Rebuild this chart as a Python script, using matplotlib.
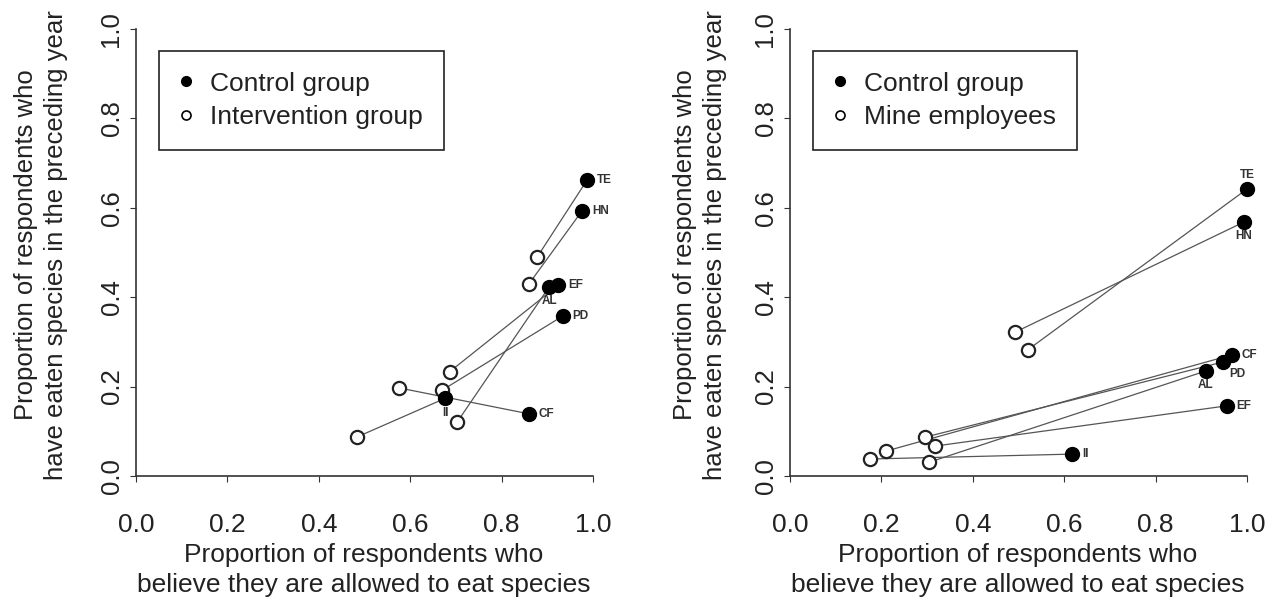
import matplotlib
matplotlib.use("Agg")
import matplotlib.pyplot as plt
from matplotlib.lines import Line2D

plt.rcParams['font.family'] = ['Liberation Sans', 'DejaVu Sans']

# ---- data ----
species_left = ['TE', 'HN', 'EF', 'AL', 'PD', 'II', 'CF']
ctrl_x_left = [0.987, 0.976, 0.924, 0.904, 0.934, 0.677, 0.860]
ctrl_y_left = [0.662, 0.593, 0.427, 0.423, 0.358, 0.174, 0.139]
int_x_left = [0.878, 0.860, 0.686, 0.703, 0.670, 0.483, 0.576]
int_y_left = [0.490, 0.430, 0.233, 0.121, 0.192, 0.087, 0.197]

species_right = ['TE', 'HN', 'CF', 'PD', 'AL', 'EF', 'II']
ctrl_x_right = [1.000, 0.993, 0.967, 0.947, 0.910, 0.956, 0.618]
ctrl_y_right = [0.642, 0.568, 0.271, 0.255, 0.235, 0.157, 0.049]
mine_x_right = [0.520, 0.493, 0.211, 0.296, 0.305, 0.318, 0.175]
mine_y_right = [0.282, 0.322, 0.056, 0.087, 0.031, 0.067, 0.038]

ticks = [0.0, 0.2, 0.4, 0.6, 0.8, 1.0]
tick_labels = ['0.0', '0.2', '0.4', '0.6', '0.8', '1.0']

xlabel = "Proportion of respondents who\nbelieve they are allowed to eat species"
ylabel = "Proportion of respondents who\nhave eaten species in the preceding year"

# label placement styles (offset in points, ha, va)
pos_left = {'TE': 'r', 'HN': 'r', 'EF': 'r', 'AL': 'b', 'PD': 'r', 'II': 'b', 'CF': 'r'}
pos_right = {'TE': 't', 'HN': 'b', 'CF': 'r', 'PD': 'rb', 'AL': 'b', 'EF': 'r', 'II': 'r'}
style = {'r': ((7, 0), 'left', 'center'),
         'b': ((0, -6), 'center', 'top'),
         't': ((0, 6), 'center', 'bottom'),
         'rb': ((5, -4), 'left', 'top')}

W, H = 1286, 608
fig = plt.figure(figsize=(W / 100, H / 100), dpi=100)

FS = 19
FSV = 18.5


def make_panel(left_px, species, cx, cy, ox, oy, open_label, pos, ylab_x_px):
    ax = fig.add_axes([left_px / W, 1 - 476 / H, 457 / W, 447 / H])
    ax.set_xlim(0, 1)
    ax.set_ylim(0, 1)
    for s in ['top', 'right']:
        ax.spines[s].set_visible(False)
    for s in ['left', 'bottom']:
        ax.spines[s].set_color('#333333')
        ax.spines[s].set_linewidth(1.2)
    ax.set_xticks(ticks)
    ax.set_xticklabels(tick_labels, fontsize=FS, color='#222222')
    ax.set_yticks(ticks)
    ax.set_yticklabels(tick_labels, fontsize=FSV, color='#222222', rotation=90, va='center')
    ax.tick_params(axis='x', length=4, pad=23, color='#333333')
    ax.tick_params(axis='y', length=4, pad=5, color='#333333')

    for i in range(len(species)):
        ax.plot([ox[i], cx[i]], [oy[i], cy[i]], color='#555555', lw=0.9, zorder=2, clip_on=False)
    ax.plot(ox, oy, 'o', ms=9.5, mfc='white', mec='#222222', mew=1.6, ls='none', zorder=3, clip_on=False)
    ax.plot(cx, cy, 'o', ms=10, mfc='black', mec='black', ls='none', zorder=4, clip_on=False)
    for i, sp in enumerate(species):
        off, ha, va = style[pos[sp]]
        ax.annotate(sp, (cx[i], cy[i]), xytext=off, textcoords='offset points',
                    ha=ha, va=va, fontsize=8.5, fontweight='bold', color='#333333', zorder=5)

    handles = [Line2D([], [], marker='o', ls='none', ms=7, mfc='black', mec='black'),
               Line2D([], [], marker='o', ls='none', ms=6.5, mfc='white', mec='black', mew=1.2)]
    leg = ax.legend(handles, ['Control group', open_label], loc='upper left',
                    bbox_to_anchor=(23 / 457, 425 / 447), borderaxespad=0,
                    fontsize=FS, frameon=True, fancybox=False, edgecolor='#222222',
                    handlelength=0.45, handletextpad=0.72, labelspacing=0.36,
                    borderpad=0.78, framealpha=1)
    leg.get_frame().set_linewidth(1.2)
    for t in leg.get_texts():
        t.set_color('#222222')

    # axis labels
    fig.text((left_px + 228) / W, 1 - 570 / H, xlabel, ha='center', va='center',
             fontsize=FS, color='#222222', linespacing=1.32)
    fig.text(ylab_x_px / W, 1 - 245 / H, ylabel, ha='center', va='center',
             rotation=90, fontsize=FSV, color='#222222', linespacing=1.3)
    return ax


make_panel(136, species_left, ctrl_x_left, ctrl_y_left, int_x_left, int_y_left,
           'Intervention group', pos_left, 41)
make_panel(790, species_right, ctrl_x_right, ctrl_y_right, mine_x_right, mine_y_right,
           'Mine employees', pos_right, 700)

fig.savefig('out.png', dpi=100, facecolor='white')
